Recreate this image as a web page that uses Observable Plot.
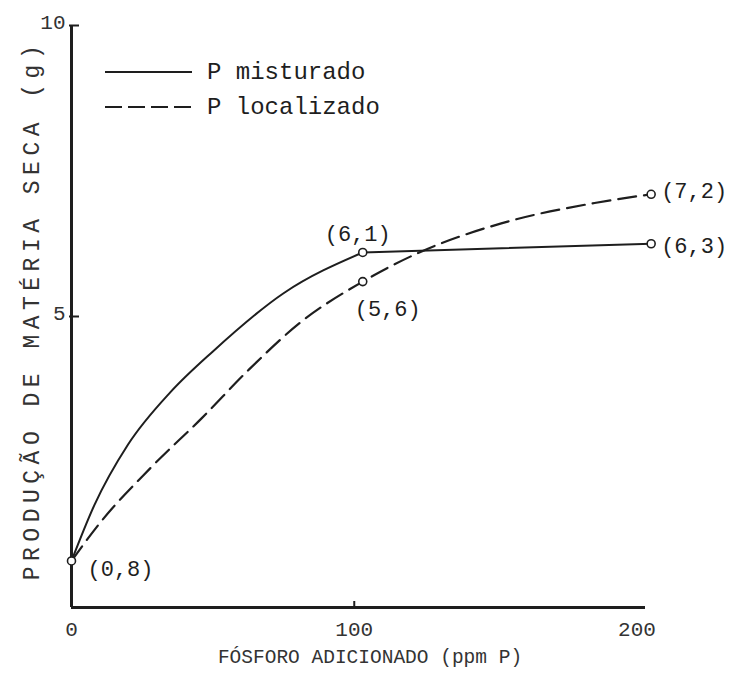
<!DOCTYPE html>
<html><head><meta charset="utf-8">
<script src="https://cdn.jsdelivr.net/npm/d3@7"></script>
<script src="https://cdn.jsdelivr.net/npm/@observablehq/plot@0.6"></script>
<style>body{margin:0;background:#fff}</style>
</head><body><div id="chart"></div>
<script>
// Data
const xTicks = [0, 100, 200];
const yTicks = [5, 10];
const solidX = [0, 8, 20, 35, 50, 75, 103];
const solidY = [0.8, 1.75, 2.8, 3.7, 4.4, 5.4, 6.1];
const solidTailX = [103, 205];
const solidTailY = [6.1, 6.25];
const dashX = [0, 10, 28, 46, 63, 81, 103, 123, 152, 185, 205];
const dashY = [0.8, 1.45, 2.4, 3.25, 4.1, 4.9, 5.6, 6.1, 6.6, 6.95, 7.1];
const pointX = [0, 103, 103, 205, 205];
const pointY = [0.8, 6.1, 5.6, 7.1, 6.25];
const pointLabels = ["(0,8)", "(6,1)", "(5,6)", "(7,2)", "(6,3)"];
const seriesNames = ["P misturado", "P localizado"];

// label placement (style)
const labelStyle = [
  {dx: 16, dy: 8, textAnchor: "start"},
  {dx: -5, dy: -19, textAnchor: "middle"},
  {dx: 25, dy: 27, textAnchor: "middle"},
  {dx: 10, dy: -3, textAnchor: "start"},
  {dx: 10, dy: 2, textAnchor: "start"}
];

const toRows = (xs, ys) => xs.map((x, i) => ({x, y: ys[i]}));
const solid = toRows(solidX, solidY);
const solidTail = toRows(solidTailX, solidTailY);
const dashed = toRows(dashX, dashY);
const points = pointX.map((x, i) => ({x, y: pointY[i], label: pointLabels[i]}));

const ink = "#1e1e1e";
const font = "'Liberation Mono', 'DejaVu Sans Mono', monospace";

const chart = Plot.plot({
  width: 736, height: 683,
  marginLeft: 71, marginRight: 91, marginTop: 25, marginBottom: 76,
  style: {fontFamily: font, fontSize: "21px", color: ink, background: "#fff", overflow: "visible"},
  x: {domain: [0, 203]},
  y: {domain: [0, 10]},
  marks: [
    Plot.axisX(xTicks, {tickSize: 0, tickPadding: 14, label: null, fill: "#333", tickFormat: d => String(d)}),
    Plot.axisY(yTicks, {tickSize: 0, tickPadding: 6, label: null, fill: "#333", tickFormat: d => String(d), dy: -3}),
    Plot.ruleY([0], {stroke: ink, strokeWidth: 3}),
    Plot.ruleX([0], {stroke: ink, strokeWidth: 3}),
    Plot.ruleY(yTicks, {x1: 0, x2: 0, insetRight: -8, insetLeft: -2, stroke: ink, strokeWidth: 2}),
    Plot.ruleX([100], {y1: 0, y2: 0, insetTop: -6, stroke: ink, strokeWidth: 2}),
    Plot.line(solid, {x: "x", y: "y", curve: "monotone-x", stroke: ink, strokeWidth: 2}),
    Plot.line(solidTail, {x: "x", y: "y", stroke: ink, strokeWidth: 2}),
    Plot.line(dashed, {x: "x", y: "y", curve: "monotone-x", stroke: ink, strokeWidth: 2.2, strokeDasharray: "18,8"}),
    Plot.dot(points, {x: "x", y: "y", r: 4, fill: "white", stroke: ink, strokeWidth: 1.6}),
    ...points.map((p, i) => Plot.text([p], {
      x: "x", y: "y", text: "label", fontSize: 22, fill: ink,
      dx: labelStyle[i].dx, dy: labelStyle[i].dy, textAnchor: labelStyle[i].textAnchor
    }))
  ]
});

const svg = d3.select(chart);
// axis titles
svg.append("text")
  .attr("transform", "translate(33,310) rotate(-90)")
  .attr("text-anchor", "middle")
  .attr("dominant-baseline", "middle")
  .style("font-family", font).style("font-size", "23px").style("letter-spacing", "5.5px")
  .attr("fill", "#333")
  .text("PRODUÇÃO DE MATÉRIA SECA (g)");
svg.append("text")
  .attr("x", 370).attr("y", 663)
  .attr("text-anchor", "middle")
  .style("font-family", font).style("font-size", "19.5px")
  .attr("fill", "#333")
  .text("FÓSFORO ADICIONADO (ppm P)");

// legend
const lg = svg.append("g").attr("text-anchor", "start");
lg.append("line").attr("x1", 105).attr("x2", 192).attr("y1", 72).attr("y2", 72)
  .attr("stroke", ink).attr("stroke-width", 2);
lg.append("line").attr("x1", 105).attr("x2", 192).attr("y1", 107).attr("y2", 107)
  .attr("stroke", ink).attr("stroke-width", 2.2).attr("stroke-dasharray", "17,6");
lg.append("text").attr("x", 207).attr("y", 79).attr("text-anchor", "start").text(seriesNames[0])
  .style("font-family", font).style("font-size", "24px").attr("fill", ink);
lg.append("text").attr("x", 207).attr("y", 114).attr("text-anchor", "start").text(seriesNames[1])
  .style("font-family", font).style("font-size", "24px").attr("fill", ink);

document.getElementById("chart").append(chart);
</script>
</body></html>
